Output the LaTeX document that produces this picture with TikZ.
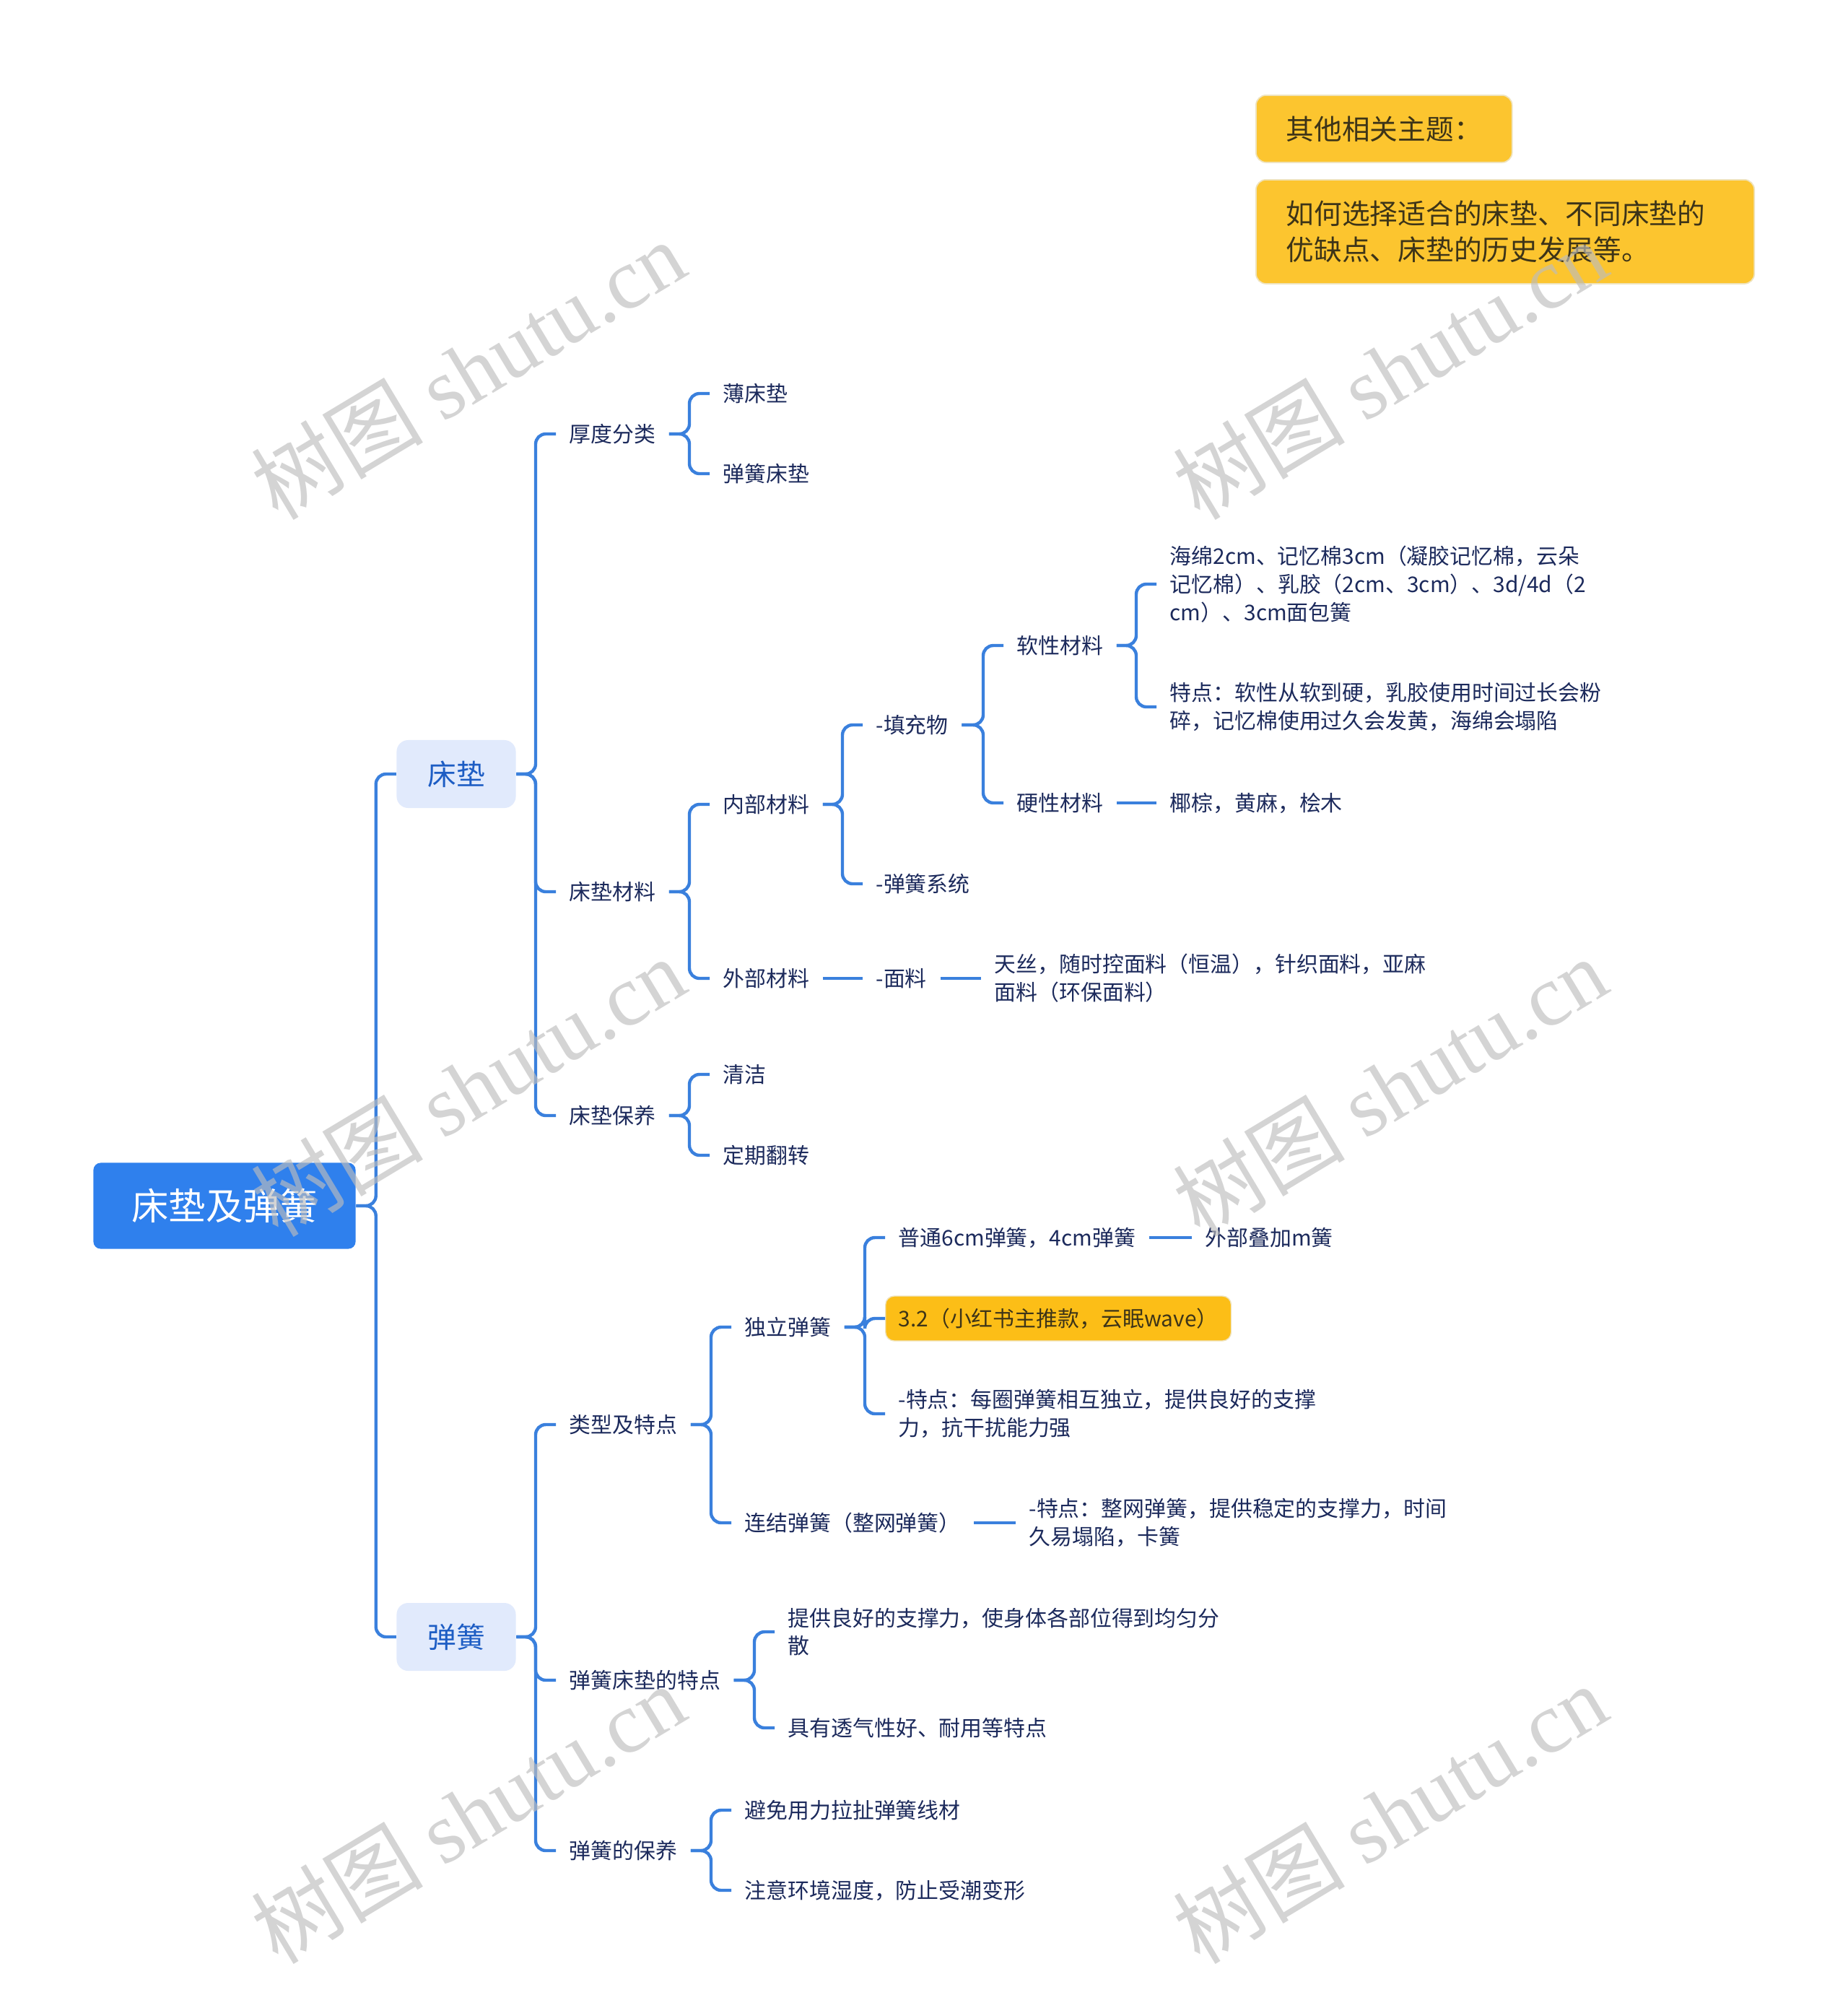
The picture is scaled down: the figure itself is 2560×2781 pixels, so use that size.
\documentclass[tikz,border=0pt]{standalone}
\usepackage{fontspec}
\setmainfont{Noto Sans CJK SC}
\newfontfamily\wmserif{Liberation Serif}
\usetikzlibrary{calc}
\definecolor{linec}{HTML}{3A80DD}
\definecolor{rootc}{HTML}{2F80ED}
\definecolor{lonec}{HTML}{E1EAFC}
\definecolor{lonet}{HTML}{1D5DC4}
\definecolor{navyt}{HTML}{1C2A5C}
\definecolor{yelc}{HTML}{FCC52F}
\definecolor{yeld}{HTML}{EFE3BC}
\definecolor{hlc}{HTML}{FCBE17}
\definecolor{yelt}{HTML}{3D3418}
\definecolor{wmc}{HTML}{BDBDBD}
\newcommand\linkbox[2]{\draw[conn] (#1.east) -| ($(#2.west)+(-46,0)$) -- ($(#2.west)+(-18,0)$);}
\newcommand\linktxt[2]{\draw[conn] ($(#1.east)+(18,0)$) -| ($(#2.west)+(-46,0)$) -- ($(#2.west)+(-18,0)$);}
\newcommand\linkhl[2]{\draw[conn] ($(#1.east)+(18,0)$) -| ($(#2.west)+(-28,0)$) -- (#2.west);}
\newcommand\linkstr[2]{\draw[conn] ($(#1.east)+(18,0)$) -- ($(#2.west)+(-18,0)$);}
\begin{document}
\begin{tikzpicture}[x=0.01cm,y=-0.01cm,
  conn/.style={draw=linec,line width=1.25pt,rounded corners=0.14cm},
  txt/.style={anchor=west,inner sep=0pt,text=navyt,align=left,font=\fontsize{8.5pt}{11.06pt}\selectfont},
  rootbox/.style={fill=rootc,text=white,rounded corners=0.1cm,minimum width=3.63cm,minimum height=1.19cm,inner sep=0pt,font=\fontsize{14.6pt}{17pt}\selectfont},
  lonebox/.style={fill=lonec,text=lonet,rounded corners=0.16cm,minimum width=1.65cm,minimum height=0.94cm,inner sep=0pt,font=\fontsize{11.3pt}{13pt}\selectfont},
  hlbox/.style={anchor=west,fill=hlc,draw=yeld,line width=0.4pt,rounded corners=0.12cm,inner xsep=0.18cm,inner ysep=0pt,minimum height=0.62cm,text=yelt,font=\fontsize{8.5pt}{11.06pt}\selectfont},
  ybox/.style={anchor=north west,fill=yelc,draw=yeld,line width=0.5pt,rounded corners=0.14cm,inner xsep=0.42cm,inner ysep=0pt,text=yelt,align=left,font=\fontsize{11pt}{14.2pt}\selectfont},
  wm/.style={rotate=31,text=wmc,opacity=0.65,inner sep=0pt,font=\fontsize{34pt}{36pt}\selectfont}
]
\useasboundingbox (0,0) rectangle (2560,2781);
\fill[white] (0,0) rectangle (2560,2781);

% main nodes
\node[rootbox] (root) at (311,1670) {床垫及弹簧};
\node[lonebox] (cd) at (632,1072) {床垫};
\node[lonebox] (th) at (632,2267) {弹簧};

% level 2
\node[txt] (hd) at (788,601) {厚度分类};
\node[txt] (cl) at (788,1235) {床垫材料};
\node[txt] (by) at (788,1545) {床垫保养};
\node[txt] (lx) at (788,1973) {类型及特点};
\node[txt] (td) at (788,2327) {弹簧床垫的特点};
\node[txt] (bb) at (788,2563) {弹簧的保养};

% level 3
\node[txt] (bc) at (1001,545) {薄床垫};
\node[txt] (tc) at (1001,656) {弹簧床垫};
\node[txt] (nb) at (1001,1114) {内部材料};
\node[txt] (wb) at (1001,1355) {外部材料};
\node[txt] (qj) at (1001,1488) {清洁};
\node[txt] (dq) at (1001,1600) {定期翻转};
\node[txt] (dl) at (1031,1838) {独立弹簧};
\node[txt] (lj) at (1031,2109) {连结弹簧（整网弹簧）};
\node[txt] (tg) at (1091,2260) {提供良好的支撑力，使身体各部位得到均匀分\\散};
\node[txt] (jy) at (1091,2393) {具有透气性好、耐用等特点};
\node[txt] (bm) at (1031,2507) {避免用力拉扯弹簧线材};
\node[txt] (zy) at (1031,2618) {注意环境湿度，防止受潮变形};

% level 4
\node[txt] (tcw) at (1213,1004) {-填充物};
\node[txt] (thx) at (1213,1224) {-弹簧系统};
\node[txt] (ml) at (1213,1355) {-面料};
\node[txt] (pt) at (1244,1714) {普通6cm弹簧，4cm弹簧};
\node[hlbox] (hl) at (1226,1826) {3.2（小红书主推款，云眠wave）};
\node[txt] (tdi) at (1244,1958) {-特点：每圈弹簧相互独立，提供良好的支撑\\力，抗干扰能力强};
\node[txt] (tdz) at (1425,2109) {-特点：整网弹簧，提供稳定的支撑力，时间\\久易塌陷，卡簧};

% level 5
\node[txt] (rx) at (1408,894) {软性材料};
\node[txt] (yx) at (1408,1112) {硬性材料};
\node[txt] (ts) at (1377,1355) {天丝，随时控面料（恒温），针织面料，亚麻\\面料（环保面料）};
\node[txt] (wbd) at (1669,1714) {外部叠加m簧};

% level 6
\node[txt] (hm) at (1620,809) {海绵2cm、记忆棉3cm（凝胶记忆棉，云朵\\记忆棉）、乳胶（2cm、3cm）、3d/4d（2\\cm）、3cm面包簧};
\node[txt] (tdr) at (1620,979) {特点：软性从软到硬，乳胶使用时间过长会粉\\碎，记忆棉使用过久会发黄，海绵会塌陷};
\node[txt] (yz) at (1620,1112) {椰棕，黄麻，桧木};

% top-right notes
\node[ybox,minimum height=0.93cm] (ot) at (1739,131) {其他相关主题：};
\node[ybox,minimum height=1.44cm,text width=6.06cm] (otd) at (1739,248) {如何选择适合的床垫、不同床垫的\\优缺点、床垫的历史发展等。};

% connectors
\draw[conn] (root.east) -| ($(cd.west)+(-28,0)$) -- (cd.west);
\draw[conn] (root.east) -| ($(th.west)+(-28,0)$) -- (th.west);
\linkbox{cd}{hd}
\linkbox{cd}{cl}
\linkbox{cd}{by}
\linkbox{th}{lx}
\linkbox{th}{td}
\linkbox{th}{bb}
\linktxt{hd}{bc}
\linktxt{hd}{tc}
\linktxt{cl}{nb}
\linktxt{cl}{wb}
\linktxt{by}{qj}
\linktxt{by}{dq}
\linktxt{nb}{tcw}
\linktxt{nb}{thx}
\linktxt{tcw}{rx}
\linktxt{tcw}{yx}
\linktxt{rx}{hm}
\linktxt{rx}{tdr}
\linkstr{yx}{yz}
\linkstr{wb}{ml}
\linkstr{ml}{ts}
\linktxt{lx}{dl}
\linktxt{lx}{lj}
\linktxt{dl}{pt}
\linkhl{dl}{hl}
\linktxt{dl}{tdi}
\linkstr{pt}{wbd}
\linkstr{lj}{tdz}
\linktxt{td}{tg}
\linktxt{td}{jy}
\linktxt{bb}{bm}
\linktxt{bb}{zy}

% watermarks
\node[wm] (wma) at (648,512) {树图 {\wmserif shutu.cn}};
\node[wm] (wmb) at (1925,512) {树图 {\wmserif shutu.cn}};
\node[wm] (wmc) at (648,1505) {树图 {\wmserif shutu.cn}};
\node[wm] (wmd) at (1925,1505) {树图 {\wmserif shutu.cn}};
\node[wm] (wme) at (648,2512) {树图 {\wmserif shutu.cn}};
\node[wm] (wmf) at (1925,2512) {树图 {\wmserif shutu.cn}};
\end{tikzpicture}
\end{document}
